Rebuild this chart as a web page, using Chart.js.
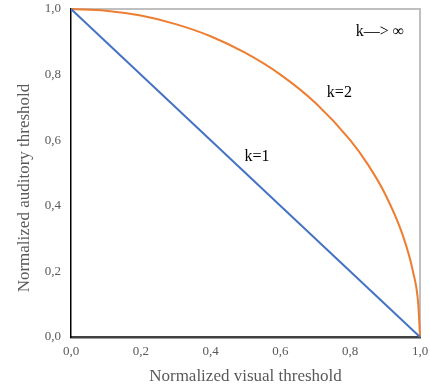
<!DOCTYPE html>
<html><head><meta charset="utf-8">
<script src="https://cdn.jsdelivr.net/npm/chart.js@4/dist/chart.umd.min.js"></script>
<style>html,body{margin:0;padding:0;background:#fff}#wrap{width:430px;height:387px}</style>
</head><body><div id="wrap"><canvas id="c" width="430" height="387"></canvas></div>
<script>
const k1X = [0, 1];
const k1Y = [1, 0];
const k2X = [0, 0.1, 0.2, 0.3, 0.4, 0.5, 0.6, 0.7, 0.8, 0.85, 0.9, 0.95, 0.98, 0.995, 1];
const k2Y = [1, 0.995, 0.98, 0.954, 0.917, 0.866, 0.8, 0.714, 0.6, 0.527, 0.436, 0.312, 0.199, 0.1, 0];
const kInfX = [0, 1, 1];
const kInfY = [1, 1, 0];
const xTicks = [0, 0.2, 0.4, 0.6, 0.8, 1.0];
const yTicks = [0, 0.2, 0.4, 0.6, 0.8, 1.0];
const annotations = [
  {text: 'k=1', x: 0.533, y: 0.549},
  {text: 'k=2', x: 0.769, y: 0.744},
  {text: 'k\u2014> \u221E', x: 0.885, y: 0.93}
];
const yTitle = 'Normalized auditory threshold';
const xTitle = 'Normalized visual threshold';
const pts = (xs, ys) => xs.map((x, i) => ({x, y: ys[i]}));
const fmt = v => v.toFixed(1).replace('.', ',');
const serif = '"Liberation Serif", "Times New Roman", serif';

const annot = {
  id: 'annot',
  afterDatasetsDraw(chart) {
    const {ctx, scales: {x, y}} = chart;
    ctx.save();
    ctx.fillStyle = '#000';
    ctx.font = '16px ' + serif;
    ctx.textAlign = 'center';
    ctx.textBaseline = 'middle';
    annotations.forEach(a => ctx.fillText(a.text, x.getPixelForValue(a.x), y.getPixelForValue(a.y)));
    // y-axis title (offset downward like the original)
    ctx.fillStyle = '#595959';
    ctx.font = '17px ' + serif;
    ctx.translate(25, 188);
    ctx.rotate(-Math.PI / 2);
    ctx.fillText(yTitle, 0, 0);
    ctx.restore();
  }
};
const zeroPad = s => { s.paddingTop = 0; s.paddingBottom = 0; s.paddingLeft = 0; s.paddingRight = 0; };

new Chart(document.getElementById('c'), {
  type: 'scatter',
  data: {datasets: [
    {label: 'k=1', data: pts(k1X, k1Y), showLine: true, borderColor: '#4472C4', borderWidth: 2, pointRadius: 0, clip: false},
    {label: 'k=2', data: pts(k2X, k2Y), showLine: true, borderColor: '#ED7D31', borderWidth: 2, pointRadius: 0, tension: 0.4, cubicInterpolationMode: 'monotone', clip: false},
    {label: 'k->inf', data: pts(kInfX, kInfY), showLine: true, borderColor: '#BFBFBF', borderWidth: 2, pointRadius: 0, clip: false}
  ]},
  options: {
    responsive: false, animation: false,
    layout: {padding: {left: 0, right: 10, top: 9, bottom: 0}},
    plugins: {legend: {display: false}, tooltip: {enabled: false}},
    scales: {
      x: {
        type: 'linear', min: 0, max: 1,
        afterBuildTicks: s => { s.ticks = xTicks.map(v => ({value: v})); },
        afterFit: s => { s.height = 50; zeroPad(s); },
        grid: {display: false, drawTicks: false},
        border: {color: '#404040', width: 2.5},
        ticks: {padding: 7, color: '#595959', font: {family: serif, size: 13}, callback: v => fmt(v), maxRotation: 0},
        title: {display: true, text: xTitle, color: '#595959', font: {family: serif, size: 17}, padding: {top: 0, bottom: 0}}
      },
      y: {
        type: 'linear', min: 0, max: 1,
        afterBuildTicks: s => { s.ticks = yTicks.map(v => ({value: v})); },
        afterFit: s => { s.width = 71; zeroPad(s); },
        grid: {display: false, drawTicks: false},
        border: {color: '#000000', width: 1.5},
        ticks: {padding: 10, color: '#595959', font: {family: serif, size: 13}, callback: v => fmt(v)},
        title: {display: false}
      }
    }
  },
  plugins: [annot]
});
</script></body></html>
